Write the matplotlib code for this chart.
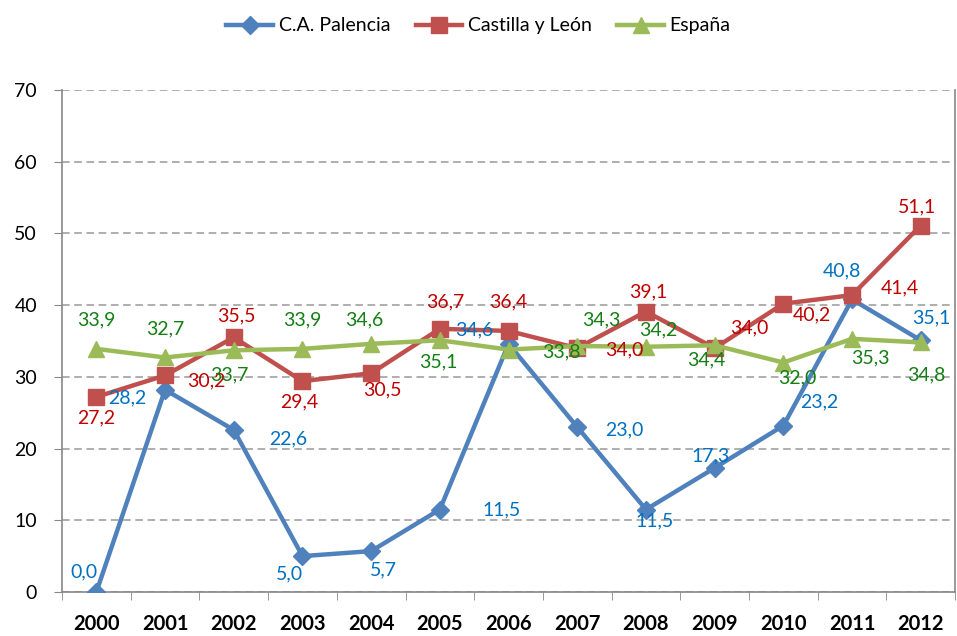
import numpy as np
import matplotlib.pyplot as plt
from matplotlib.ticker import FixedLocator

plt.rcParams['font.family'] = ['Lato', 'DejaVu Sans']

# Data
years = ['2000', '2001', '2002', '2003', '2004', '2005', '2006',
         '2007', '2008', '2009', '2010', '2011', '2012']
palencia = [0.0, 28.2, 22.6, 5.0, 5.7, 11.5, 34.6, 23.0, 11.5, 17.3, 23.2, 40.8, 35.1]
castilla = [27.2, 30.2, 35.5, 29.4, 30.5, 36.7, 36.4, 34.0, 39.1, 34.0, 40.2, 41.4, 51.1]
espana = [33.9, 32.7, 33.7, 33.9, 34.6, 35.1, 33.8, 34.3, 34.2, 34.4, 32.0, 35.3, 34.8]

# label offsets in pixels (dx, dy), as placed in the original chart
off_pal = [(-12, 20), (-38, -8), (54, -9), (-13, -18), (12, -19), (62, 0), (-34, 14),
           (47, -3), (9, -11), (-4, 12), (36, 24), (-10, 29), (11, 22)]
off_cas = [(0, -21), (41, -5), (3, 22), (-3, -21), (11, -17), (5, 27), (0, 29),
           (47, -2), (2, 20), (35, 20), (29, -11), (48, 7), (-4, 19)]
off_esp = [(0, 29), (0, 29), (-4, -25), (0, 29), (-7, 24), (-2, -22), (53, -2),
           (24, 26), (12, 17), (-8, -15), (14, -15), (18, -19), (6, -32)]


def fmt(v):
    return f'{v:.1f}'.replace('.', ',')


fig = plt.figure(figsize=(9.57, 6.36), dpi=100)
ax = fig.add_axes([0.0648, 0.0692, 0.9332, 0.7893])

x = np.arange(len(years))

ax.plot(x, palencia, color='#4F81BD', lw=3.2, marker='D', ms=9,
        label='C.A. Palencia', zorder=3)
ax.plot(x, castilla, color='#C0504D', lw=3.2, marker='s', ms=11,
        label='Castilla y León', zorder=4)
ax.plot(x, espana, color='#9BBB59', lw=3.2, marker='^', ms=11,
        label='España', zorder=5)

for vals, offs, col in [(palencia, off_pal, '#0070C0'),
                        (castilla, off_cas, '#C00000'),
                        (espana, off_esp, '#137F13')]:
    for xi, v, (dx, dy) in zip(x, vals, offs):
        ax.annotate(fmt(v), (xi, v), xytext=(dx, dy), textcoords='offset pixels',
                    ha='center', va='center', color=col, fontsize=14, zorder=6)

ax.set_xlim(-0.5, len(years) - 0.5)
ax.set_ylim(0, 70)
ax.set_yticks(np.arange(0, 71, 10))
ax.set_yticklabels([str(v) for v in range(0, 71, 10)], fontsize=14)

ax.set_xticks(x)
ax.set_xticklabels(years, fontsize=14.5, fontweight='bold')
ax.tick_params(axis='x', which='major', length=0, pad=16)
ax.xaxis.set_minor_locator(FixedLocator(np.arange(-0.5, len(years), 1.0)))
ax.tick_params(axis='x', which='minor', length=6, color='#888888')
ax.tick_params(axis='y', length=6, color='#888888', pad=12)

ax.grid(axis='y', linestyle='--', color='#999999', lw=1.1, dashes=(5, 3))
ax.set_axisbelow(True)
for s in ['left', 'right', 'bottom']:
    ax.spines[s].set_color('#888888')
    ax.spines[s].set_linewidth(1.2)
ax.spines['top'].set_visible(False)

fig.legend(loc='upper center', bbox_to_anchor=(0.5, 1.0), ncol=3, frameon=False,
           fontsize=14, handlelength=2.4, columnspacing=1.3, handletextpad=0.3)

fig.savefig('out.png', dpi=100)
